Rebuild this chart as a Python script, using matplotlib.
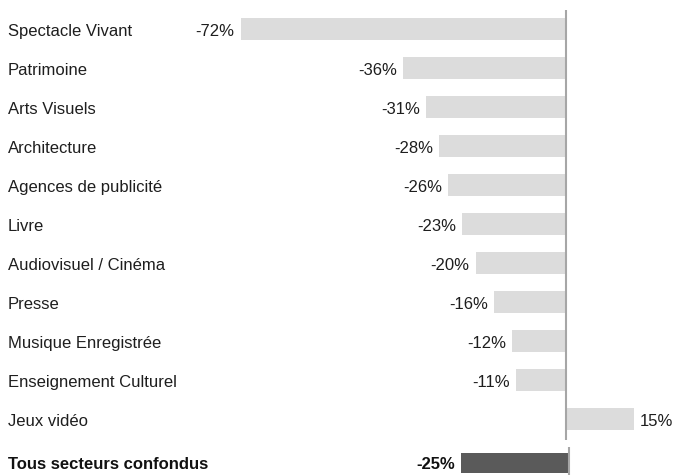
import matplotlib
matplotlib.use("Agg")
import matplotlib.pyplot as plt

plt.rcParams["font.family"] = ["Liberation Sans", "DejaVu Sans"]

# ---- data ----
sectors = ["Spectacle Vivant", "Patrimoine", "Arts Visuels", "Architecture",
           "Agences de publicité", "Livre", "Audiovisuel / Cinéma", "Presse",
           "Musique Enregistrée", "Enseignement Culturel", "Jeux vidéo"]
changes = [-72, -36, -31, -28, -26, -23, -20, -16, -12, -11, 15]
total_label = "Tous secteurs confondus"
total_change = -25

W, H, DPI = 674, 475, 100
ROW = 39.0      # px between rows
TOP0 = 29.0     # px of first row centre
TXT = "#1e1e1e"
LIGHT = "#dcdcdc"
DARK = "#5a5a5a"
AXIS = "#a6a6a6"

fig = plt.figure(figsize=(W / DPI, H / DPI), dpi=DPI)

ylim = ((H - TOP0) / ROW, -TOP0 / ROW)

# top block: sectors
zero_px, scale = 566.0, 4.52
ax = fig.add_axes([0, 0, 1, 1])
ax.set_xlim(-zero_px / scale, (W - zero_px) / scale)
ax.set_ylim(*ylim)
ax.axis("off")
ypos = list(range(len(sectors)))
ax.barh(ypos, changes, height=22 / ROW, color=LIGHT, zorder=2)
ax.vlines(0, (10 - TOP0) / ROW, (440 - TOP0) / ROW, color=AXIS, lw=1.5, zorder=3)
for y, name, v in zip(ypos, sectors, changes):
    ax.annotate(name, xy=(8 / W, y), xycoords=ax.get_yaxis_transform(),
                xytext=(0, -1.5), textcoords="offset points", ha="left",
                va="center", fontsize=12, color=TXT)
    ax.annotate(f"{v}%", xy=(v, y), xytext=(-4.3 if v < 0 else 4.3, -1.5),
                textcoords="offset points", ha="right" if v < 0 else "left",
                va="center", fontsize=12, color=TXT)

# bottom block: total
zero_b, scale_b = 569.0, 4.32
ax2 = fig.add_axes([0, 0, 1, 1])
ax2.set_xlim(-zero_b / scale_b, (W - zero_b) / scale_b)
ax2.set_ylim(*ylim)
ax2.axis("off")
yb = (463 - TOP0) / ROW
ax2.barh([yb], [total_change], height=20 / ROW, color=DARK, zorder=2)
ax2.vlines(0, (447 - TOP0) / ROW, ylim[0], color=AXIS, lw=1.5, zorder=3)
ax2.annotate(total_label, xy=(8 / W, yb), xycoords=ax2.get_yaxis_transform(),
             xytext=(0, -1), textcoords="offset points", ha="left",
             va="center", fontsize=12, fontweight="bold", color="#111111")
ax2.annotate(f"{total_change}%", xy=(total_change, yb), xytext=(-4.3, -1),
             textcoords="offset points", ha="right", va="center",
             fontsize=12, fontweight="bold", color="#111111")

fig.savefig("out.png", dpi=DPI)
